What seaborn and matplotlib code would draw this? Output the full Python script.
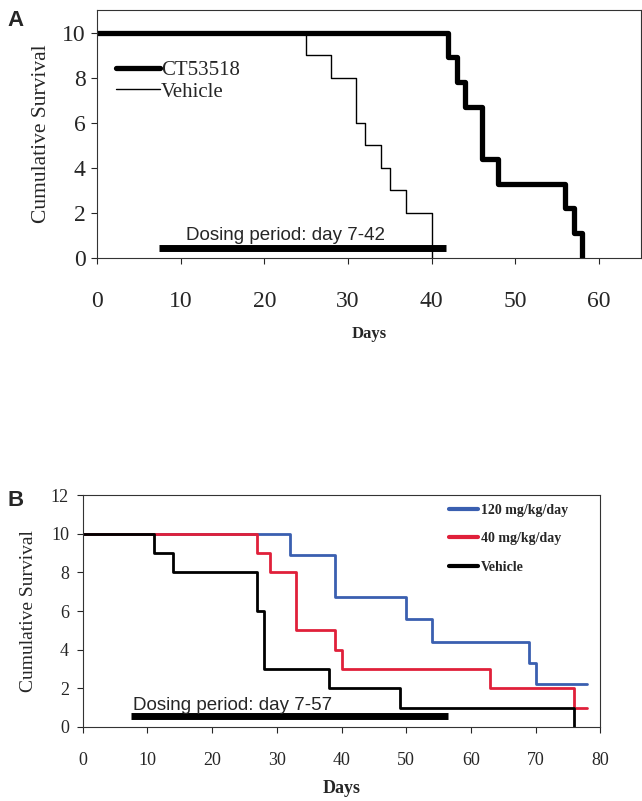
import matplotlib
matplotlib.use("Agg")
import matplotlib.pyplot as plt
import seaborn as sns
import pandas as pd

sns.set_theme(style="white")
plt.rcParams['font.family'] = ['Liberation Serif', 'DejaVu Serif']

# ---------------- Data ----------------
# Panel A
a_ct_days = [0, 42, 43, 44, 46, 48, 56, 57, 58]
a_ct_surv = [10, 8.9, 7.8, 6.7, 4.4, 3.3, 2.2, 1.1, 0]
a_veh_days = [0, 25, 28, 31, 32, 34, 35, 37, 40]
a_veh_surv = [10, 9, 8, 6, 5, 4, 3, 2, 0]
a_dosing = [7.4, 41.7]
a_labels = ["CT53518", "Vehicle"]

# Panel B
b_120_days = [0, 32, 39, 50, 54, 69, 70, 78]
b_120_surv = [10, 8.9, 6.7, 5.6, 4.4, 3.3, 2.2, 2.2]
b_40_days = [0, 27, 29, 33, 39, 40, 63, 76, 78]
b_40_surv = [10, 9, 8, 5, 4, 3, 2, 1, 1]
b_veh_days = [0, 11, 14, 27, 28, 38, 49, 76]
b_veh_surv = [10, 9, 8, 6, 3, 2, 1, 0]
b_dosing = [7.4, 56.5]
b_labels = ["120 mg/kg/day", "40 mg/kg/day", "Vehicle"]
b_colors = ["#3a5fb0", "#e0203a", "#000000"]

SANS = ["Liberation Sans", "DejaVu Sans"]

fig = plt.figure(figsize=(6.42, 8.01), dpi=100)

# ---------------- Panel A ----------------
axA = fig.add_axes([0.151, 0.678, 0.847, 0.3095])
dfA1 = pd.DataFrame({"Days": a_ct_days, "Surv": a_ct_surv})
dfA2 = pd.DataFrame({"Days": a_veh_days, "Surv": a_veh_surv})
sns.lineplot(data=dfA1, x="Days", y="Surv", ax=axA, color="black", lw=3.8,
             drawstyle="steps-post", estimator=None, label=a_labels[0])
sns.lineplot(data=dfA2, x="Days", y="Surv", ax=axA, color="black", lw=1,
             drawstyle="steps-post", estimator=None, label=a_labels[1])
axA.plot(a_dosing, [0.44, 0.44], color="black", lw=5, solid_capstyle="butt")
axA.text(22.5, 0.8, "Dosing period: day 7-42", ha="center", va="baseline",
         fontsize=13.5, family=SANS)
axA.set_xlim(0, 65)
axA.set_ylim(0, 11)
axA.set_xticks(range(0, 70, 10))
axA.set_yticks(range(0, 12, 2))
axA.tick_params(axis="x", labelsize=17, pad=20, length=4, direction="out",
                bottom=True, width=0.8)
axA.tick_params(axis="y", labelsize=17, pad=4, length=4, direction="out",
                left=True, width=0.8)
axA.set_xlabel("Days", fontsize=12, fontweight="bold", labelpad=10)
axA.set_ylabel("Cumulative Survival", fontsize=15.5, labelpad=8)
for s in axA.spines.values():
    s.set_linewidth(0.8)
    s.set_color("#333333")
legA = axA.legend(loc="upper left", bbox_to_anchor=(0.02, 0.83), frameon=False,
                  fontsize=15, handlelength=2.1, handletextpad=0.05,
                  labelspacing=0.1, borderaxespad=0)
fig.text(0.012, 0.968, "A", fontsize=16, fontweight="bold", family=SANS)

# ---------------- Panel B ----------------
axB = fig.add_axes([0.129, 0.0924, 0.806, 0.2896])
series_b = [(b_120_days, b_120_surv), (b_40_days, b_40_surv), (b_veh_days, b_veh_surv)]
for (d, s), lab, col in zip(series_b, b_labels, b_colors):
    df = pd.DataFrame({"Days": d, "Surv": s})
    sns.lineplot(data=df, x="Days", y="Surv", ax=axB, color=col, lw=2,
                 drawstyle="steps-post", estimator=None, label=lab)
axB.plot(b_dosing, [0.57, 0.57], color="black", lw=5, solid_capstyle="butt")
axB.text(7.8, 0.88, "Dosing period: day 7-57", ha="left", va="baseline",
         fontsize=13.5, family=SANS)
axB.set_xlim(0, 80)
axB.set_ylim(0, 12)
axB.set_xticks(range(0, 90, 10))
axB.set_yticks(range(0, 14, 2))
axB.tick_params(axis="x", labelsize=13, pad=14, length=4, direction="out",
                bottom=True, width=0.8)
axB.tick_params(axis="y", labelsize=13, pad=6, length=4, direction="out",
                left=True, width=0.8)
axB.set_xlabel("Days", fontsize=13, fontweight="bold", labelpad=8)
axB.set_ylabel("Cumulative Survival", fontsize=14, labelpad=10)
for s in axB.spines.values():
    s.set_linewidth(0.8)
    s.set_color("#333333")
legB = axB.legend(loc="upper right", bbox_to_anchor=(0.949, 0.985), frameon=False,
                  prop={"size": 10, "weight": "bold"}, handlelength=2.1,
                  handletextpad=0.2, labelspacing=1.1, borderaxespad=0)
for line in legB.get_lines():
    line.set_linewidth(3)
fig.text(0.012, 0.368, "B", fontsize=16, fontweight="bold", family=SANS)

fig.savefig("out.png", dpi=100)
